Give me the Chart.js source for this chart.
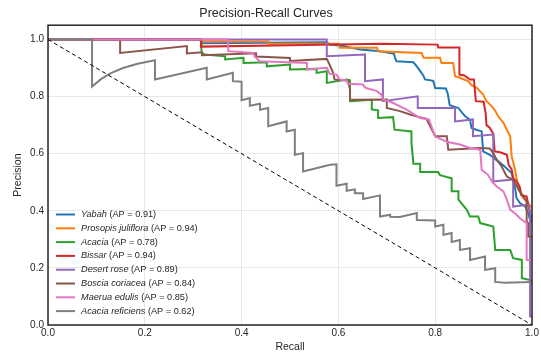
<!DOCTYPE html>
<html>
<head>
<meta charset="utf-8">
<script src="https://cdn.jsdelivr.net/npm/chart.js@4.4.1/dist/chart.umd.min.js"></script>
<style>
  html, body { margin: 0; padding: 0; background: #fff; }
  #wrap { width: 541px; height: 355px; }
</style>
</head>
<body>
<div id="wrap"><canvas id="c" width="541" height="355"></canvas></div>
<script>
// ---- data (recall, precision) ----
const seriesNames = ["Yabah", "Prosopis juliflora", "Acacia", "Bissar", "Desert rose", "Boscia coriacea", "Maerua edulis", "Acacia reficiens"];
const apValues = [0.91, 0.94, 0.78, 0.94, 0.89, 0.84, 0.85, 0.62];
const seriesColors = ["#1f77b4", "#ff7f0e", "#2ca02c", "#d62728", "#9467bd", "#8c564b", "#e377c2", "#7f7f7f"];
const xTicks = [0.0, 0.2, 0.4, 0.6, 0.8, 1.0];
const yTicks = [0.0, 0.2, 0.4, 0.6, 0.8, 1.0];

const yabah = [[0,1],[0.316,1],[0.316,0.987],[0.576,0.99],[0.583,0.982],[0.61,0.977],[0.645,0.965],[0.686,0.959],[0.715,0.95],[0.717,0.935],[0.72,0.924],[0.755,0.92],[0.762,0.906],[0.769,0.889],[0.775,0.875],[0.779,0.86],[0.796,0.855],[0.80,0.83],[0.822,0.828],[0.826,0.81],[0.83,0.77],[0.848,0.76],[0.855,0.745],[0.862,0.731],[0.872,0.719],[0.875,0.69],[0.885,0.684],[0.896,0.678],[0.899,0.608],[0.913,0.596],[0.925,0.58],[0.94,0.56],[0.958,0.532],[0.961,0.509],[0.965,0.48],[0.968,0.445],[0.975,0.427],[0.986,0.415],[0.992,0.392],[0.996,0.368],[1.0,0.36]];
const prosopis = [[0,1],[0.316,1],[0.316,0.993],[0.455,0.993],[0.455,0.985],[0.6,0.985],[0.603,0.971],[0.68,0.971],[0.682,0.959],[0.772,0.953],[0.776,0.936],[0.81,0.936],[0.813,0.918],[0.837,0.918],[0.841,0.871],[0.851,0.866],[0.868,0.854],[0.875,0.84],[0.886,0.831],[0.899,0.807],[0.906,0.784],[0.917,0.766],[0.924,0.75],[0.930,0.731],[0.941,0.708],[0.948,0.684],[0.955,0.66],[0.958,0.591],[0.965,0.544],[0.972,0.474],[0.982,0.445],[0.99,0.43],[1.0,0.41]];
const acacia = [[0,1],[0.317,1],[0.317,0.955],[0.324,0.947],[0.366,0.941],[0.366,0.930],[0.404,0.936],[0.404,0.918],[0.452,0.920],[0.452,0.906],[0.5,0.912],[0.5,0.895],[0.555,0.897],[0.555,0.883],[0.576,0.889],[0.576,0.848],[0.617,0.860],[0.624,0.857],[0.624,0.784],[0.669,0.789],[0.669,0.755],[0.682,0.752],[0.682,0.725],[0.713,0.728],[0.716,0.684],[0.751,0.678],[0.751,0.636],[0.755,0.565],[0.769,0.565],[0.769,0.536],[0.806,0.536],[0.81,0.525],[0.834,0.514],[0.834,0.468],[0.848,0.468],[0.848,0.439],[0.865,0.404],[0.872,0.380],[0.889,0.380],[0.893,0.357],[0.920,0.345],[0.924,0.263],[0.955,0.263],[0.961,0.234],[0.979,0.228],[0.979,0.164],[0.996,0.158],[1.0,0.158]];
const bissar = [[0,1],[0.316,1],[0.316,0.975],[0.5,0.98],[0.69,0.985],[0.805,0.982],[0.806,0.972],[0.85,0.972],[0.85,0.877],[0.86,0.874],[0.872,0.86],[0.88,0.86],[0.884,0.784],[0.9,0.782],[0.904,0.745],[0.906,0.70],[0.913,0.69],[0.920,0.67],[0.923,0.608],[0.934,0.605],[0.948,0.596],[0.952,0.56],[0.958,0.545],[0.961,0.515],[0.97,0.50],[0.975,0.482],[0.978,0.455],[0.989,0.45],[0.992,0.425],[0.996,0.39],[1.0,0.37]];
const desertRose = [[0,1],[0.576,1],[0.576,0.941],[0.655,0.947],[0.655,0.854],[0.692,0.86],[0.692,0.784],[0.764,0.801],[0.764,0.760],[0.841,0.760],[0.841,0.713],[0.878,0.72],[0.878,0.661],[0.920,0.667],[0.920,0.503],[0.961,0.51],[0.961,0.415],[0.992,0.421],[0.996,0.40],[0.996,0.03],[1.0,0.03]];
const boscia = [[0,1],[0.149,1],[0.149,0.953],[0.287,0.977],[0.287,0.951],[0.318,0.955],[0.318,0.945],[0.43,0.952],[0.43,0.94],[0.50,0.935],[0.50,0.925],[0.576,0.932],[0.58,0.918],[0.589,0.884],[0.592,0.86],[0.62,0.855],[0.624,0.825],[0.624,0.789],[0.70,0.79],[0.70,0.760],[0.727,0.749],[0.748,0.737],[0.765,0.729],[0.782,0.722],[0.80,0.661],[0.824,0.661],[0.827,0.614],[0.893,0.620],[0.913,0.618],[0.920,0.602],[0.927,0.579],[0.937,0.556],[0.948,0.520],[0.961,0.509],[0.975,0.468],[0.989,0.433],[0.989,0.363],[0.992,0.357],[0.992,0.31],[1.0,0.31]];
const maerua = [[0,1],[0.3725,1],[0.3725,0.959],[0.424,0.953],[0.427,0.941],[0.437,0.924],[0.496,0.920],[0.535,0.918],[0.535,0.895],[0.576,0.901],[0.582,0.88],[0.596,0.877],[0.603,0.86],[0.617,0.857],[0.62,0.845],[0.65,0.842],[0.657,0.83],[0.679,0.82],[0.689,0.807],[0.692,0.789],[0.71,0.78],[0.741,0.754],[0.769,0.725],[0.787,0.72],[0.80,0.66],[0.824,0.642],[0.851,0.632],[0.872,0.620],[0.893,0.614],[0.896,0.544],[0.909,0.526],[0.917,0.503],[0.927,0.485],[0.941,0.468],[0.948,0.439],[0.955,0.404],[0.968,0.386],[0.975,0.374],[0.989,0.357],[0.989,0.228],[1.0,0.228]];
const reficiens = [[0,1],[0.091,1],[0.091,0.835],[0.11,0.862],[0.13,0.882],[0.155,0.9],[0.185,0.915],[0.221,0.927],[0.221,0.86],[0.328,0.901],[0.328,0.86],[0.382,0.883],[0.382,0.854],[0.400,0.852],[0.400,0.787],[0.417,0.795],[0.417,0.768],[0.438,0.775],[0.438,0.754],[0.455,0.760],[0.455,0.696],[0.493,0.713],[0.493,0.678],[0.510,0.684],[0.510,0.596],[0.527,0.602],[0.527,0.538],[0.583,0.561],[0.596,0.563],[0.596,0.488],[0.617,0.495],[0.617,0.470],[0.634,0.475],[0.634,0.461],[0.651,0.461],[0.651,0.441],[0.686,0.454],[0.686,0.380],[0.707,0.386],[0.707,0.379],[0.727,0.378],[0.762,0.392],[0.762,0.368],[0.8,0.366],[0.8,0.345],[0.817,0.351],[0.817,0.316],[0.834,0.322],[0.834,0.291],[0.851,0.298],[0.851,0.263],[0.872,0.269],[0.872,0.228],[0.903,0.240],[0.903,0.193],[0.924,0.199],[0.924,0.151],[0.944,0.148],[1.0,0.151]];
const chanceLine = [[0,1],[1,0]];

const seriesData = [yabah, prosopis, acacia, bissar, desertRose, boscia, maerua, reficiens];

const toXY = arr => arr.map(([x, y]) => ({x, y}));

const datasets = seriesData.map((d, i) => ({
  label: seriesNames[i] + " (AP = " + apValues[i].toFixed(2) + ")",
  data: toXY(d),
  borderColor: seriesColors[i],
  backgroundColor: seriesColors[i],
  borderWidth: 2,
  pointRadius: 0,
  tension: 0,
  fill: false,
  order: seriesData.length - i + 1
}));
datasets.push({
  label: "chance",
  data: toXY(chanceLine),
  borderColor: "#000000",
  borderWidth: 1,
  borderDash: [4, 3],
  pointRadius: 0,
  fill: false,
  order: 0
});

const FONT = '"Liberation Sans", Arial, sans-serif';
const TEXT = '#262626';

const framePlugin = {
  id: 'frame',
  afterDatasetsDraw(chart) {
    const {ctx, chartArea: a} = chart;
    ctx.save();
    ctx.strokeStyle = '#262626';
    ctx.lineWidth = 1.5;
    ctx.strokeRect(a.left, a.top, a.right - a.left, a.bottom - a.top);
    ctx.restore();
  }
};

const legendPlugin = {
  id: 'customLegend',
  afterDraw(chart) {
    const {ctx, chartArea: a} = chart;
    ctx.save();
    const x0 = a.left + 8, lineLen = 19, tx = a.left + 33;
    const rowH = 13.8;
    const yStart = 214.5;
    seriesNames.forEach((name, i) => {
      const y = yStart + i * rowH;
      ctx.strokeStyle = seriesColors[i];
      ctx.lineWidth = 2;
      ctx.beginPath();
      ctx.moveTo(x0, y);
      ctx.lineTo(x0 + lineLen, y);
      ctx.stroke();
      ctx.fillStyle = TEXT;
      ctx.textBaseline = 'middle';
      ctx.textAlign = 'left';
      ctx.font = 'italic 9.2px ' + FONT;
      ctx.fillText(name, tx, y);
      const w = ctx.measureText(name + ' ').width;
      ctx.font = '9.2px ' + FONT;
      ctx.fillText('(AP = ' + apValues[i].toFixed(2) + ')', tx + w, y);
    });
    ctx.restore();
  }
};

new Chart(document.getElementById('c'), {
  type: 'line',
  data: { datasets },
  plugins: [framePlugin, legendPlugin],
  options: {
    responsive: false,
    animation: false,
    layout: { padding: { left: 0, right: 9, top: 0, bottom: 0 } },
    plugins: {
      legend: { display: false },
      tooltip: { enabled: false },
      title: {
        display: true,
        text: 'Precision-Recall Curves',
        color: TEXT,
        font: { family: FONT, size: 12.5, weight: 'normal' },
        padding: { top: 6, bottom: 4.2 }
      }
    },
    scales: {
      x: {
        type: 'linear',
        min: 0, max: 1,
        afterBuildTicks: s => { s.ticks = xTicks.map(v => ({value: v})); },
        afterFit: s => { s.height = 30; },
        ticks: { color: TEXT, padding: 2, maxRotation: 0, font: { family: FONT, size: 10 }, callback: v => Number(v).toFixed(1) },
        grid: { color: '#e8e8e8', lineWidth: 1, drawTicks: false },
        border: { display: false },
        title: { display: true, text: 'Recall', color: TEXT, font: { family: FONT, size: 10.5 }, padding: { top: 0, bottom: 1.5 } }
      },
      y: {
        type: 'linear',
        min: 0, max: 1.05,
        afterBuildTicks: s => { s.ticks = yTicks.map(v => ({value: v})); },
        afterFit: s => { s.width = 48; },
        ticks: { color: TEXT, padding: 4, font: { family: FONT, size: 10 }, callback: v => Number(v).toFixed(1) },
        grid: { color: '#e8e8e8', lineWidth: 1, drawTicks: false },
        border: { display: false },
        title: { display: true, text: 'Precision', color: TEXT, font: { family: FONT, size: 10.5 }, padding: { top: 11.5, bottom: 0 } }
      }
    }
  }
});
</script>
</body>
</html>
